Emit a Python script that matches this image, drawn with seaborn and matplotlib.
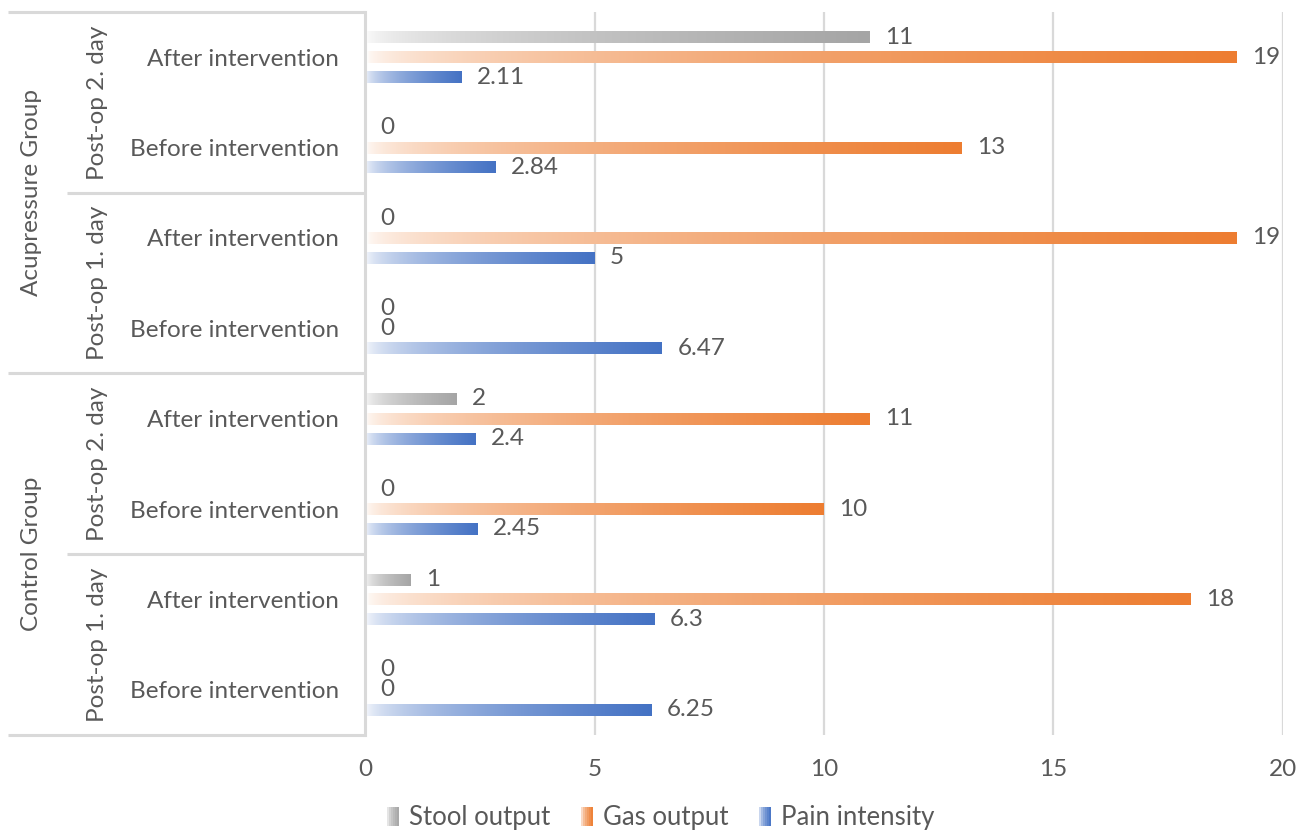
import numpy as np
import pandas as pd
import matplotlib.pyplot as plt
import seaborn as sns
from matplotlib.patches import Rectangle, Patch
from matplotlib.legend_handler import HandlerPatch
from matplotlib.colors import to_rgb

sns.set_style("white")
plt.rcParams['font.family'] = ['Lato', 'DejaVu Sans']

# rows from top to bottom
groups = ["Acupressure Group"] * 4 + ["Control Group"] * 4
days = ["Post-op 2. day", "Post-op 2. day", "Post-op 1. day", "Post-op 1. day"] * 2
phases = ["After intervention", "Before intervention"] * 4

stool = [11, 0, 0, 0, 2, 0, 1, 0]
gas = [19, 13, 19, 0, 11, 10, 18, 0]
pain = [2.11, 2.84, 5, 6.47, 2.4, 2.45, 6.3, 6.25]

series = ["Stool output", "Gas output", "Pain intensity"]
colors = ["#A5A5A5", "#ED7D31", "#4472C4"]
text_col = "#595959"
line_col = "#D9D9D9"
fs = 17.5

rows = [f"{g}|{d}|{p}" for g, d, p in zip(groups, days, phases)]
df = pd.DataFrame({
    "row": rows * 3,
    "measure": np.repeat(series, len(rows)),
    "value": stool + gas + pain,
})

fig, ax = plt.subplots(figsize=(13.09, 8.32), dpi=100)
fig.subplots_adjust(left=0.279, right=0.980, top=0.9856, bottom=0.1166)

sns.barplot(data=df, x="value", y="row", hue="measure", order=rows,
            hue_order=series, palette=colors, orient="h", width=0.66,
            gap=0.4, legend=False, ax=ax)


def grad_img(color, n=256):
    c = np.array(to_rgb(color))
    t = np.linspace(0, 1, n) ** 0.5
    img = (1 - t)[:, None] * np.ones(3) + t[:, None] * c
    return img[None, :, :]


# swap flat fills for white-to-colour gradients
for cont, col in zip(ax.containers, colors):
    for bar in cont:
        x, y, w, h = bar.get_x(), bar.get_y(), bar.get_width(), bar.get_height()
        bar.set_facecolor("none")
        bar.set_edgecolor("none")
        if w > 0:
            ax.imshow(grad_img(col), extent=[x, x + w, y + h, y],
                      aspect="auto", zorder=2, interpolation="bilinear")
    ax.bar_label(cont, labels=[f"{v:g}" for v in cont.datavalues],
                 padding=11, fontsize=fs, color=text_col)

ax.set_xlim(0, 20)
ax.set_ylim(7.5, -0.5)
ax.set_xticks([0, 5, 10, 15, 20])
ax.set_yticks(range(len(rows)))
ax.set_yticklabels(phases)
ax.tick_params(axis="y", length=0, pad=19, labelsize=fs, labelcolor=text_col)
ax.tick_params(axis="x", length=0, pad=17, labelsize=fs, labelcolor=text_col)
ax.set_xlabel("")
ax.set_ylabel("")

ax.grid(axis="x", color=line_col, lw=1.6)
ax.set_axisbelow(True)
for s in ["top", "right", "bottom"]:
    ax.spines[s].set_visible(False)
ax.spines["left"].set_color(line_col)
ax.spines["left"].set_linewidth(2.2)

# multi-level category axis
tr = ax.get_yaxis_transform()
for yv, x0 in [(-0.5, -0.389), (1.5, -0.325), (3.5, -0.389),
               (5.5, -0.325), (7.5, -0.389)]:
    ax.plot([x0, 0], [yv, yv], transform=tr, clip_on=False,
            color=line_col, lw=2.2, solid_capstyle="butt")

for i in range(0, len(rows), 2):
    ax.text(-0.292, i + 0.5, days[i], transform=tr, rotation=90,
            ha="center", va="center", fontsize=fs, color=text_col)
for i in range(0, len(rows), 4):
    ax.text(-0.364, i + 1.5, groups[i], transform=tr, rotation=90,
            ha="center", va="center", fontsize=fs, color=text_col)


class GradHandler(HandlerPatch):
    def create_artists(self, legend, orig_handle, xdescent, ydescent,
                       width, height, fontsize, trans):
        c = np.array(to_rgb(orig_handle.get_facecolor()))
        n = 6
        arts = []
        for k in range(n):
            t = ((k + 0.5) / n) ** 0.5
            col = (1 - t) * np.ones(3) + t * c
            r = Rectangle((-xdescent + width * k / n, -ydescent), width / n,
                          height, facecolor=col, edgecolor="none",
                          transform=trans)
            arts.append(r)
        return arts


handles = [Patch(facecolor=c, label=s) for s, c in zip(series, colors)]
fig.legend(handles=handles, loc="center", bbox_to_anchor=(0.505, 0.017),
           ncol=3, frameon=False, fontsize=18.5, labelcolor=text_col,
           handlelength=0.45, handleheight=0.8, handletextpad=0.4,
           columnspacing=1.2,
           handler_map={Patch: GradHandler()})

fig.savefig("out.png", dpi=100)
